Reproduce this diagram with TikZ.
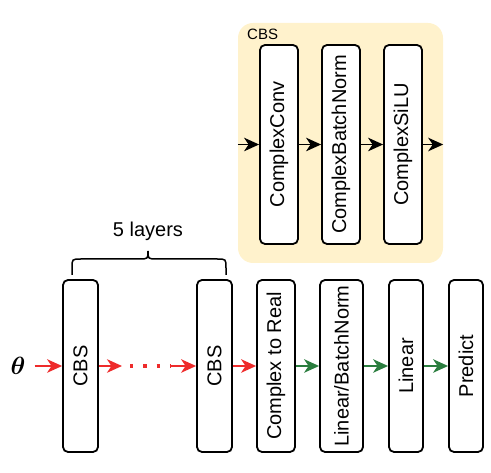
\documentclass[tikz,border=0pt]{standalone}
\usepackage{fontspec}
\usepackage{amsmath,bm}
\usepackage{graphicx}
\setmainfont{Liberation Sans}
\usetikzlibrary{arrows.meta}
\definecolor{cbsfill}{HTML}{FFF2CC}
\definecolor{myred}{HTML}{EE2B2B}
\definecolor{mygreen}{HTML}{2A7D3E}
\tikzset{
  blk/.style={draw=black, line width=1.8pt, fill=white, rounded corners=5pt,
    inner sep=0pt, font=\fontsize{20}{24}\selectfont},
  arr/.style={line width=1.7pt, -{Stealth[length=15pt,width=13.5pt,inset=4.5pt]}},
  lbl/.style={font=\fontsize{20}{24}\selectfont, inner sep=0pt},
}
\begin{document}
\begin{tikzpicture}[x=1pt,y=-1pt]
\useasboundingbox (0,0) rectangle (491,473);
% CBS group
\node[fill=cbsfill, rounded corners=15pt, minimum width=205pt, minimum height=240pt, inner sep=0pt] (grp) at (340.5,143) {};
\node[font=\fontsize{15}{18}\selectfont, inner sep=0pt, anchor=base west] (grplbl) at (247,40) {CBS};
\node[blk, minimum width=38pt, minimum height=199pt] (conv) at (279,144.5) {\rotatebox{90}{ComplexConv}};
\node[blk, minimum width=38pt, minimum height=199pt] (cbn) at (341,144.5) {\rotatebox{90}{ComplexBatchNorm}};
\node[blk, minimum width=38pt, minimum height=199pt] (silu) at (403,144.5) {\rotatebox{90}{ComplexSiLU}};
\draw[arr] (grp.west |- conv) -- (conv);
\draw[arr] (conv) -- (cbn);
\draw[arr] (cbn) -- (silu);
\draw[arr] (silu) -- (grp.east |- silu);
% bottom row
\node[inner sep=0pt, font=\fontsize{24}{28}\selectfont] (theta) at (18,366) {$\bm{\theta}$};
\node[blk, minimum width=35pt, minimum height=172pt] (cbsa) at (80.5,366) {\rotatebox{90}{CBS}};
\node[blk, minimum width=35pt, minimum height=172pt] (cbsb) at (214.5,366) {\rotatebox{90}{CBS}};
\node[blk, minimum width=38pt, minimum height=172pt] (ctr) at (276,366) {\rotatebox{90}{Complex to Real}};
\node[blk, minimum width=43pt, minimum height=172pt] (lbn) at (341.5,366) {\rotatebox{90}{Linear/BatchNorm}};
\node[blk, minimum width=34pt, minimum height=172pt] (lin) at (406,366) {\rotatebox{90}{Linear}};
\node[blk, minimum width=34pt, minimum height=172pt] (pred) at (466,366) {\rotatebox{90}{Predict}};
\coordinate (d1) at (122,366);
\coordinate (d2) at (170,366);
\draw[arr, myred, shorten <=9pt] (theta) -- (cbsa);
\draw[arr, myred] (cbsa) -- (d1);
\draw[myred, line width=3.3pt, dash pattern=on 3.3pt off 10pt] ([xshift=8pt]d1) -- (d2);
\draw[arr, myred] (d2) -- (cbsb);
\draw[arr, myred] (cbsb) -- (ctr);
\draw[arr, mygreen] (ctr) -- (lbn);
\draw[arr, mygreen] (lbn) -- (lin);
\draw[arr, mygreen] (lin) -- (pred);
% brace
\draw[line width=1.5pt] (72,275) -- (72,268) .. controls (72,259) .. (81,259) -- (139,259) .. controls (148,259) .. (148,251) .. controls (148,259) .. (157,259) -- (217,259) .. controls (226,259) .. (226,268) -- (226,275);
\node[lbl, anchor=base] (layers) at (148,237) {5 layers};
\end{tikzpicture}
\end{document}
